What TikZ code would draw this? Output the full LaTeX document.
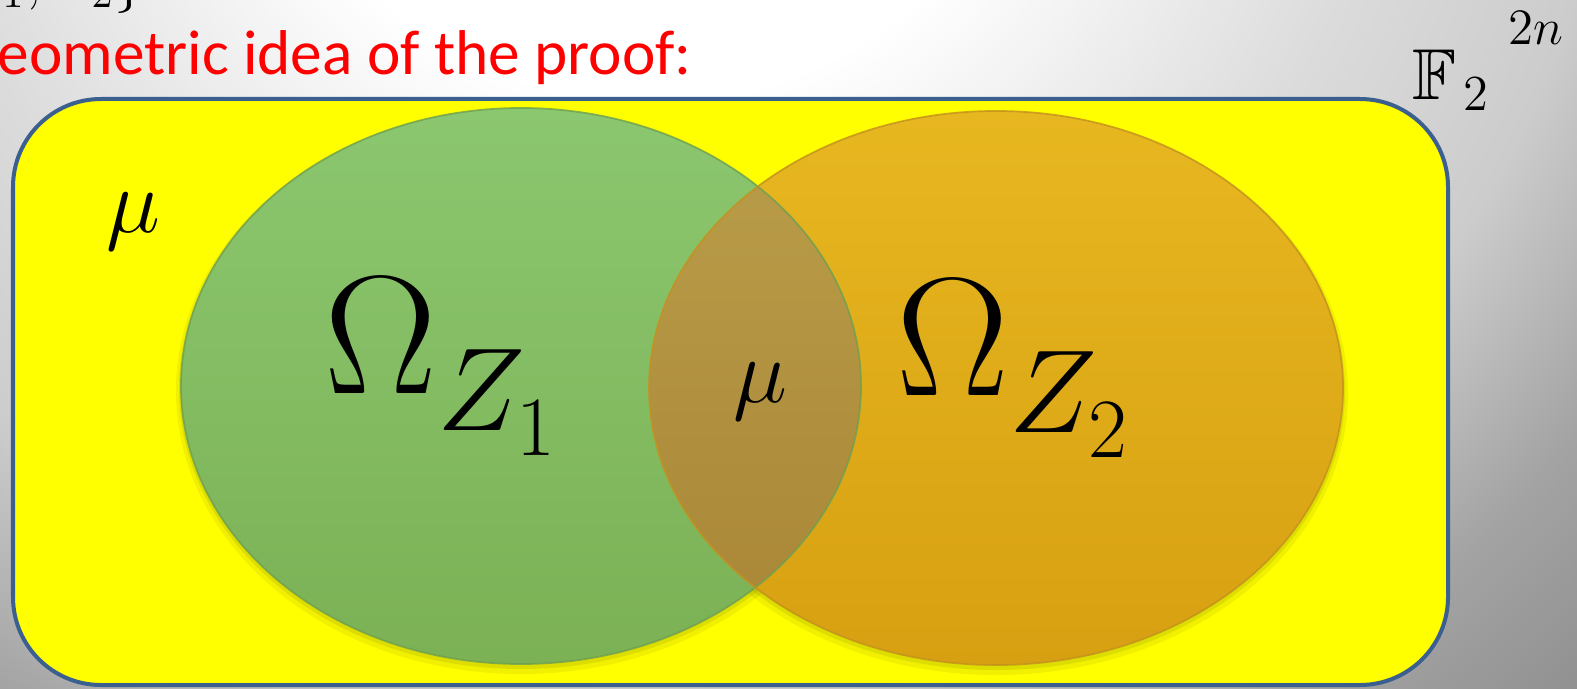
\RequirePackage{fix-cm}
\documentclass[tikz,border=0pt]{standalone}
\usepackage{amssymb}
\usepackage{fontspec}
\newfontfamily\carlito{Carlito}
\definecolor{bgA}{gray}{0.86}
\definecolor{bgB}{gray}{0.80}
\definecolor{bgC}{gray}{0.64}
\definecolor{bgD}{gray}{0.57}
\definecolor{boxblue}{RGB}{59,95,142}
\definecolor{boxyellow}{RGB}{255,255,0}
\definecolor{greenT}{RGB}{139,199,111}
\definecolor{greenB}{RGB}{124,177,85}
\definecolor{greenE}{RGB}{110,160,80}
\definecolor{orangeT}{RGB}{231,183,32}
\definecolor{orangeB}{RGB}{215,160,18}
\definecolor{orangeE}{RGB}{196,145,30}
\definecolor{midT}{RGB}{186,158,74}
\definecolor{midB}{RGB}{168,133,54}
\definecolor{titlered}{RGB}{255,0,0}
\pgfdeclareradialshading{bgshade}{\pgfpoint{0cm}{0cm}}{color(0cm)=(white); color(4cm)=(white); color(7.5cm)=(bgA); color(9.7cm)=(bgB); color(11.8cm)=(bgC); color(13.5cm)=(bgD); color(14cm)=(bgD)}
\tikzset{
  shadowlayer/.style={fill=black, draw=none},
  bigmath/.style={anchor=base west, inner sep=0pt, font=\fontsize{48}{52}\selectfont},
  mulabel/.style={inner sep=0pt, font=\fontsize{26}{28}\selectfont},
}
\begin{document}
\begin{tikzpicture}[x=0.01cm, y=-0.01cm]
\useasboundingbox (0,0) rectangle (1577,688);
\begin{scope}
\clip (0,0) rectangle (1577,688);
% background
\fill[bgD] (0,0) rectangle (1577,688);
\node[inner sep=0pt, outer sep=0pt] (bg) at (650,-300) {\pgfuseshading{bgshade}};
% top cut-off text
\node[anchor=base west, inner sep=0pt, font=\fontsize{17}{20}\selectfont] (toptext) at (-68,-1) {$\{Z_1, Z_2\}$};
% title
\node[anchor=base west, inner sep=0pt, text=titlered, font=\carlito\fontsize{18}{22}\selectfont] (title) at (-3,75) {eometric idea of the proof:};
% yellow box
\draw[fill=boxyellow, draw=boxblue, line width=0.04cm, rounded corners=0.88cm] (13,99) rectangle (1448,685);
% shadows
\fill[shadowlayer, opacity=0.06] (521,391) ellipse [x radius=345, y radius=283];
\fill[shadowlayer, opacity=0.08] (521,389) ellipse [x radius=342, y radius=280];
\fill[shadowlayer, opacity=0.06] (996,393) ellipse [x radius=352, y radius=282];
\fill[shadowlayer, opacity=0.08] (996,391) ellipse [x radius=349, y radius=279];
% green ellipse
\shade[top color=greenT, bottom color=greenB] (521,386) ellipse [x radius=340, y radius=278];
% orange ellipse
\shade[top color=orangeT, bottom color=orangeB] (996,388) ellipse [x radius=347, y radius=277];
% intersection
\begin{scope}
\clip (521,386) ellipse [x radius=340, y radius=278];
\shade[top color=midT, bottom color=midB] (996,388) ellipse [x radius=347, y radius=277];
\end{scope}
% rims
\draw[greenE, line width=0.5pt, opacity=0.8] (521,386) ellipse [x radius=340, y radius=278];
\draw[orangeE, line width=0.5pt, opacity=0.8] (996,388) ellipse [x radius=347, y radius=277];
% labels
\node[bigmath] (om1) at (324,393) {$\Omega_{\raisebox{-3.5pt}{$\scriptstyle Z_{\raisebox{-2pt}{$\scriptscriptstyle 1$}}$}}$};
\node[bigmath] (om2) at (896,395) {$\Omega_{\raisebox{-3.5pt}{$\scriptstyle Z_{\raisebox{-2pt}{$\scriptscriptstyle 2$}}$}}$};
\node[mulabel] (mu1) at (133,222) {$\mu$};
\node[mulabel] (mu2) at (760,392) {$\mu$};
\node[anchor=base west, inner sep=0pt, font=\fontsize{20.5}{24}\selectfont] (field) at (1412,100) {$\mathbb{F}_{\kern2pt 2}$};
\node[anchor=base west, inner sep=0pt, font=\fontsize{14.5}{17}\selectfont] (expo) at (1508,45) {$2n$};
\end{scope}
\end{tikzpicture}
\end{document}
